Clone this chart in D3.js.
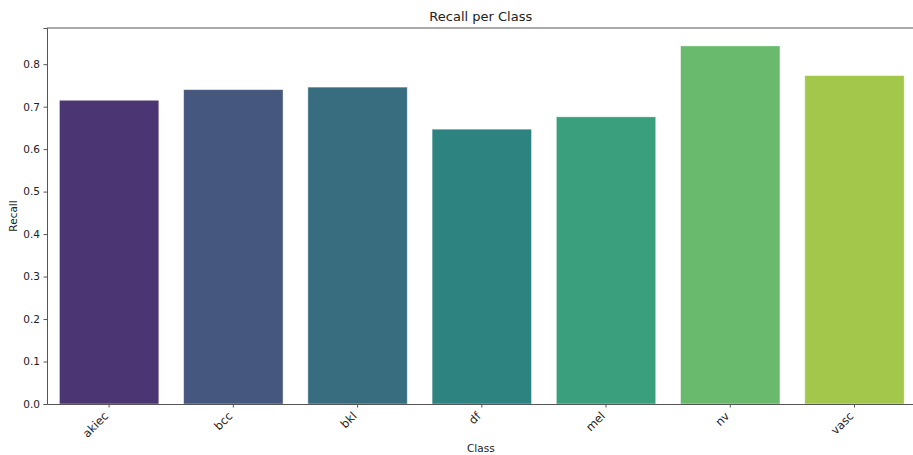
<!DOCTYPE html>
<html>
<head>
<meta charset="utf-8">
<script src="https://cdn.jsdelivr.net/npm/d3@7"></script>
<style>
  body { margin: 0; background: #fff; }
  svg { display: block; font-family: "DejaVu Sans", sans-serif; }
</style>
</head>
<body>
<svg id="chart" width="913" height="455"></svg>
<script>
const classes = ["akiec", "bcc", "bkl", "df", "mel", "nv", "vasc"];
const recall = [0.715, 0.740, 0.746, 0.647, 0.676, 0.843, 0.773];
const barColors = ["#4b3572", "#45577f", "#386d80", "#2c8380", "#3a9f7d", "#6aba6e", "#a3c74a"];
const yTicks = [0.0, 0.1, 0.2, 0.3, 0.4, 0.5, 0.6, 0.7, 0.8];

const svg = d3.select("#chart");
const plotLeft = 47, plotRight = 916.6, plotTop = 28, plotBottom = 404;

const x = d3.scaleBand().domain(classes).range([plotLeft, plotRight]).paddingInner(0.2).paddingOuter(0.1);
const yMax = d3.max(recall) * 1.05;
const y = d3.scaleLinear().domain([0, yMax]).range([plotBottom, plotTop]);

// bars
svg.append("g").selectAll("rect").data(classes).join("rect")
  .attr("x", d => x(d))
  .attr("y", (d, i) => y(recall[i]))
  .attr("width", x.bandwidth())
  .attr("height", (d, i) => y(0) - y(recall[i]))
  .attr("fill", (d, i) => barColors[i])
  .attr("stroke", "#ffffff")
  .attr("stroke-opacity", 0.5)
  .attr("stroke-width", 0.8);

// y axis
const yAxis = svg.append("g").attr("transform", `translate(${plotLeft},0)`)
  .call(d3.axisLeft(y).tickValues(yTicks).tickFormat(d3.format(".1f")).tickSize(3.5).tickPadding(3.5));
yAxis.select(".domain").attr("stroke", "#555").attr("stroke-width", 1);
yAxis.selectAll(".tick line").attr("stroke", "#555");
yAxis.selectAll("text").attr("font-size", 10.5).attr("fill", "#222").attr("font-family", "DejaVu Sans");

// x axis, labels rotated 45° with their upper-right corner just under the tick
const xAxis = svg.append("g").attr("transform", `translate(0,${plotBottom})`)
  .call(d3.axisBottom(x).tickSize(3.5).tickSizeOuter(0));
xAxis.select(".domain").attr("stroke", "#555").attr("stroke-width", 1);
xAxis.selectAll(".tick line").attr("stroke", "#555");
xAxis.selectAll("text")
  .attr("font-size", 11.5).attr("fill", "#222").attr("font-family", "DejaVu Sans")
  .attr("text-anchor", "end")
  .attr("dy", "0.35em")
  .attr("transform", "translate(-3,10) rotate(-45)")
  .attr("y", 0).attr("x", 0);

// top spine
svg.append("line").attr("x1", plotLeft).attr("x2", plotRight).attr("y1", plotTop).attr("y2", plotTop)
  .attr("stroke", "#555").attr("stroke-width", 1);

// title and axis labels
const cx = (plotLeft + plotRight) / 2;
svg.append("text").attr("x", cx - 1).attr("y", 21).attr("text-anchor", "middle")
  .attr("font-size", 13).attr("fill", "#222").text("Recall per Class");
svg.append("text").attr("x", cx - 1).attr("y", 452).attr("text-anchor", "middle")
  .attr("font-size", 10.5).attr("fill", "#222").text("Class");
svg.append("text").attr("transform", `translate(17,${(plotTop + plotBottom) / 2}) rotate(-90)`)
  .attr("text-anchor", "middle").attr("font-size", 10.5).attr("fill", "#222").text("Recall");
</script>
</body>
</html>
